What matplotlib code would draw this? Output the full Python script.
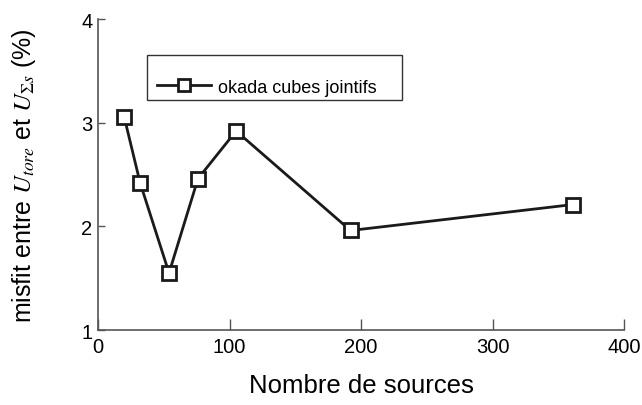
import matplotlib
matplotlib.use("Agg")
import matplotlib.pyplot as plt
from matplotlib.patches import Rectangle

plt.rcParams['font.family'] = ['Liberation Sans', 'DejaVu Sans']
plt.rcParams['mathtext.fontset'] = 'stix'

# data
n_sources = [20, 32, 54, 76, 105, 192, 361]
misfit = [3.05, 2.42, 1.55, 2.46, 2.92, 1.96, 2.21]
xticks = [0, 100, 200, 300, 400]
yticks = [1, 2, 3, 4]
series_label = 'okada cubes jointifs'

fig = plt.figure(figsize=(6.42, 4.06), dpi=100)
ax = fig.add_axes([0.1527, 0.1847, 0.8193, 0.766])

ax.plot(n_sources, misfit, color='#1a1a1a', lw=2.0, marker='s', ms=9.5,
        mfc='white', mec='#1a1a1a', mew=2.0, label=series_label)

ax.set_xlim(0, 400)
ax.set_ylim(1, 4)
ax.set_xticks(xticks)
ax.set_yticks(yticks)

for s in ['top', 'right']:
    ax.spines[s].set_visible(False)
for s in ['left', 'bottom']:
    ax.spines[s].set_color('#555555')
    ax.spines[s].set_linewidth(1.2)

ax.tick_params(axis='x', direction='in', length=8, width=1, color='#555555',
               labelsize=14.5, pad=5)
ax.tick_params(axis='y', direction='in', length=5, width=1, color='#555555',
               labelsize=14.5, pad=4)

ax.set_xlabel('Nombre de sources', fontsize=18.5, labelpad=12)
ax.set_ylabel(r'misfit entre $U_{tore}$ et $U_{\Sigma s}$ (%)', fontsize=18)
ax.yaxis.set_label_coords(-0.115, 0.5)

# matlab-style legend box: entry sits in the lower part of the frame
box = Rectangle((0.0926, 0.7395), 0.4845, 0.1455, transform=ax.transAxes,
                facecolor='white', edgecolor='#333333', lw=1.0, zorder=4)
ax.add_patch(box)
leg = ax.legend(loc='center left', bbox_to_anchor=(0.112, 0.781),
                frameon=False, borderaxespad=0, borderpad=0,
                fontsize=13, handlelength=3.0, handletextpad=0.4,
                markerscale=0.85)
leg.set_zorder(5)

fig.savefig('out.png', dpi=100)
